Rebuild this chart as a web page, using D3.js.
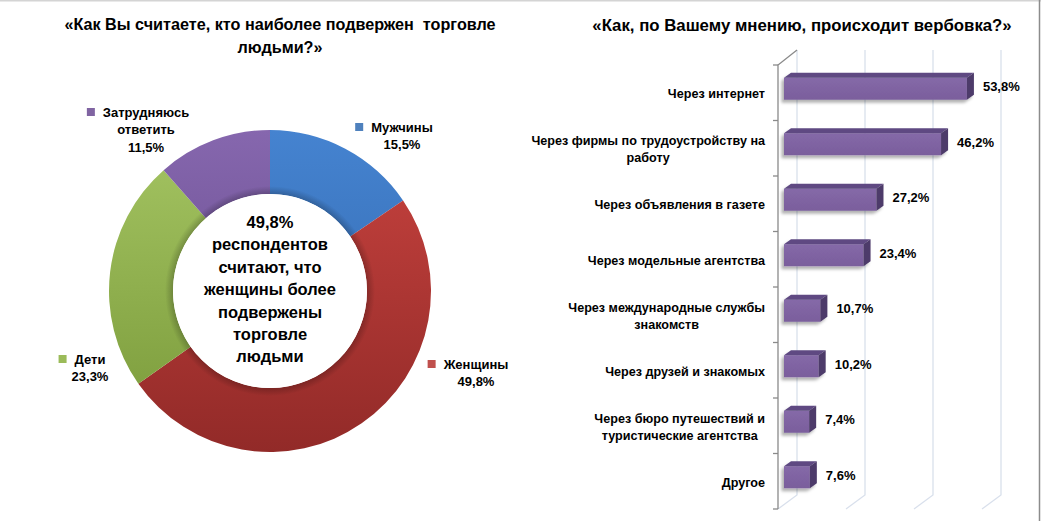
<!DOCTYPE html>
<html><head><meta charset="utf-8">
<script src="https://cdn.jsdelivr.net/npm/d3@7"></script>
<style>
html,body{margin:0;padding:0;background:#fff;}
svg{display:block;font-family:"Liberation Sans",Arial,sans-serif;font-weight:bold;}
</style></head>
<body>
<svg id="c" width="1041" height="521"></svg>
<script>
// ---------- DATA ----------
const pieCategories = ["Мужчины", "Женщины", "Дети", "Затрудняюсь ответить"];
const pieValues = [15.5, 49.8, 23.3, 11.5];
const pieLabelValues = ["15,5%", "49,8%", "23,3%", "11,5%"];
const pieLabelLines = [["Мужчины"], ["Женщины"], ["Дети"], ["Затрудняюсь", "ответить"]];
const centerText = ["49,8%", "респондентов", "считают, что", "женщины более", "подвержены", "торговле", "людьми"];

const barCategories = [
  ["Через интернет"],
  ["Через фирмы по трудоустройству на", "работу"],
  ["Через объявления в газете"],
  ["Через модельные агентства"],
  ["Через международные службы", "знакомств"],
  ["Через друзей и знакомых"],
  ["Через бюро путешествий и", "туристические агентства"],
  ["Другое"]
];
const barValues = [53.8, 46.2, 27.2, 23.4, 10.7, 10.2, 7.4, 7.6];
const barLabels = ["53,8%", "46,2%", "27,2%", "23,4%", "10,7%", "10,2%", "7,4%", "7,6%"];
const xTicks = [0, 20, 40, 60];

const title1 = ["«Как Вы считаете, кто наиболее подвержен  торговле", "людьми?»"];
const title2 = "«Как, по Вашему мнению, происходит вербовка?»";

// ---------- SETUP ----------
const svg = d3.select("#c");
const defs = svg.append("defs");

// borders
svg.append("line").attr("x1",0).attr("x2",1041).attr("y1",0.5).attr("y2",0.5).attr("stroke","#d4d4d4").attr("stroke-width",2);
svg.append("line").attr("x1",1039.5).attr("x2",1039.5).attr("y1",0).attr("y2",521).attr("stroke","#8c8c8c").attr("stroke-width",1.5);

// titles
svg.append("text").attr("text-anchor","middle").attr("font-size",16.2)
  .selectAll("tspan").data(title1).join("tspan")
  .attr("x",280).attr("y",(d,i)=>30+i*23).style("white-space","pre").text(d=>d);
svg.append("text").attr("x",802).attr("y",31).attr("text-anchor","middle").attr("font-size",16.8).text(title2);

// ---------- DONUT ----------
const cx = 270, cy = 291, rOuter = 161, rInner = 97;
const grads = [
  ["#4583d0", "#2f64a8"],
  ["#c8433f", "#922a28"],
  ["#a5c563", "#789838"],
  ["#8667ae", "#5d4383"]
];
const keyColors = ["#4f81bd", "#c0504d", "#9bbb59", "#8064a2"];
grads.forEach((g,i)=>{
  const lg = defs.append("linearGradient").attr("id","pgl"+i).attr("gradientUnits","userSpaceOnUse")
    .attr("x1",0).attr("x2",0).attr("y1",-rOuter).attr("y2",rOuter);
  lg.append("stop").attr("offset","0%").attr("stop-color",g[0]);
  lg.append("stop").attr("offset","100%").attr("stop-color",g[1]);
});

const pie = d3.pie().sort(null).value(d=>d)(pieValues);
const arc = d3.arc().innerRadius(rInner).outerRadius(rOuter);
const pg = svg.append("g").attr("transform",`translate(${cx},${cy})`);
pg.selectAll("path.s").data(pie).join("path").attr("class","s")
  .attr("d",arc).attr("fill",(d,i)=>`url(#pgl${i})`);
// inner shadow ring
const rg2 = defs.append("radialGradient").attr("id","innerShadeL").attr("gradientUnits","userSpaceOnUse")
  .attr("cx",0).attr("cy",0).attr("r",rInner+8);
rg2.append("stop").attr("offset",(rInner/(rInner+8)*100)+"%").attr("stop-color","#000").attr("stop-opacity",0.22);
rg2.append("stop").attr("offset","100%").attr("stop-color","#000").attr("stop-opacity",0);
pg.append("path").attr("d",d3.arc().innerRadius(rInner).outerRadius(rInner+8)({startAngle:0,endAngle:2*Math.PI}))
  .attr("fill","url(#innerShadeL)");
pg.append("circle").attr("r",rInner).attr("fill","#fff");

// center text
pg.append("text").attr("text-anchor","middle").attr("font-size",16.5)
  .selectAll("tspan").data(centerText).join("tspan")
  .attr("x",0).attr("y",(d,i)=>-69+6+i*22.4).text(d=>d);

// pie labels
const pieLabelPos = [
  {x:402, y:127}, {x:476, y:364}, {x:90, y:359}, {x:146, y:112}
];
pieLabelPos.forEach((p,i)=>{
  const lines = pieLabelLines[i].concat([pieLabelValues[i]]);
  const t = svg.append("text").attr("text-anchor","middle").attr("font-size",13);
  t.selectAll("tspan").data(lines).join("tspan").attr("x",p.x).attr("y",(d,j)=>p.y+4.5+j*17.8).text(d=>d);
  const first = t.select("tspan").node();
  const w = first.getComputedTextLength();
  svg.append("rect").attr("x",p.x - w/2 - 16).attr("y",p.y-4).attr("width",8).attr("height",8).attr("fill",keyColors[i]);
});

// ---------- BAR CHART ----------
const x = d3.scaleLinear().domain([0,60]).range([778,982]);
const y = d3.scaleBand().domain(d3.range(barValues.length)).range([65,509]);
const wall = {dx:19, dy:-14};
const bOff = {dx:6, dy:-4};
const bDep = {dx:7, dy:-5};
const bh = 22;
const gridTop = 50, gridBot = 495, floorY = 509;
const gg = svg.append("g");
xTicks.forEach(v=>{
  gg.append("path").attr("d",`M${x(v)+wall.dx},${gridTop}V${gridBot}L${x(v)},${floorY}`)
    .attr("fill","none").attr("stroke","#d9e0ec").attr("stroke-width",1.3);
});
// left axis
svg.append("path").attr("d",`M${x(0)},${floorY}V${y.range()[0]}L${x(0)+wall.dx},${gridTop}`)
  .attr("fill","none").attr("stroke","#8a8a8a").attr("stroke-width",1.3);
const ticks = d3.range(barValues.length+1).map(i=>y.range()[0]+i*y.step());
svg.selectAll("line.tk").data(ticks).join("line").attr("class","tk")
  .attr("x1",x(0)-5).attr("x2",x(0)).attr("y1",d=>d).attr("y2",d=>d)
  .attr("stroke","#8a8a8a").attr("stroke-width",1.3);

// shadow filter
const f = defs.append("filter").attr("id","sh").attr("x","-20%").attr("y","-40%").attr("width","140%").attr("height","180%");
f.append("feDropShadow").attr("dx",-2.5).attr("dy",3).attr("stdDeviation",1.6).attr("flood-color","#000").attr("flood-opacity",0.3);

const fg = defs.append("linearGradient").attr("id","barFront").attr("x1",0).attr("x2",0).attr("y1",0).attr("y2",1);
fg.append("stop").attr("offset","0%").attr("stop-color","#8569a8");
fg.append("stop").attr("offset","100%").attr("stop-color","#7a5e9c");

const bars = svg.append("g").selectAll("g").data(barValues).join("g").attr("filter","url(#sh)");
bars.each(function(v,i){
  const g = d3.select(this);
  const x0 = x(0)+bOff.dx, x1 = x(v)+bOff.dx;
  const c = y(i)+y.bandwidth()/2 + bOff.dy;
  const t = c-bh/2, b = c+bh/2;
  g.append("rect").attr("x",x0).attr("y",t).attr("width",x1-x0).attr("height",bh).attr("fill","url(#barFront)");
  g.append("path").attr("d",`M${x0},${t}L${x1},${t}L${x1+bDep.dx},${t+bDep.dy}L${x0+bDep.dx},${t+bDep.dy}Z`).attr("fill","#5e4a82");
  g.append("path").attr("d",`M${x1},${t}L${x1+bDep.dx},${t+bDep.dy}L${x1+bDep.dx},${b+bDep.dy}L${x1},${b}Z`).attr("fill","#4d3b6a");
});
// value labels
svg.selectAll("text.vl").data(barValues).join("text").attr("class","vl")
  .attr("x",d=>x(d)+22).attr("y",(d,i)=>y(i)+y.bandwidth()/2-6).attr("dy","0.36em")
  .attr("font-size",13).text((d,i)=>barLabels[i]);
// category labels
const rightEdge = 765, lh = 17;
barCategories.forEach((lines,i)=>{
  const t = svg.append("text").attr("text-anchor","middle").attr("font-size",12.6);
  const cyc = y(i)+y.bandwidth()/2+1;
  const sp = t.selectAll("tspan").data(lines).join("tspan")
    .attr("y",(d,j)=>cyc-(lines.length-1)*lh/2+j*lh).attr("dy","0.36em").text(d=>d);
  let mw = 0; sp.each(function(){mw=Math.max(mw,this.getComputedTextLength());});
  sp.attr("x",rightEdge-mw/2);
});
</script>
</body></html>
